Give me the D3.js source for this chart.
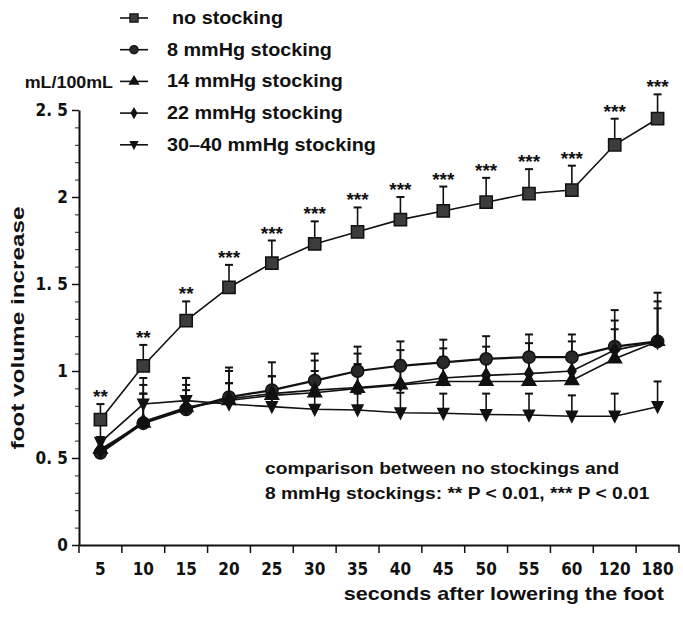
<!DOCTYPE html>
<html>
<head>
<meta charset="utf-8">
<script src="https://cdn.jsdelivr.net/npm/d3@7"></script>
<style>
  body { margin: 0; background: #fff; }
  text { font-family: "Liberation Sans", Arial, sans-serif; font-weight: bold; fill: #111; }
  .narrow { font-family: "Liberation Sans Narrow", "DejaVu Sans Condensed", "Liberation Sans", sans-serif; }
</style>
</head>
<body>
<div id="chart"></div>
<script>
// categories (seconds after lowering the foot)
var seconds = ["5", "10", "15", "20", "25", "30", "35", "40", "45", "50", "55", "60", "120", "180"];

// mean foot volume increase (mL/100mL) per stocking
var noStocking = [0.72, 1.03, 1.29, 1.48, 1.62, 1.73, 1.80, 1.87, 1.92, 1.97, 2.02, 2.04, 2.30, 2.45];
var mmHg8      = [0.53, 0.70, 0.78, 0.85, 0.89, 0.945, 1.00, 1.03, 1.05, 1.07, 1.08, 1.08, 1.14, 1.17];
var mmHg14     = [0.55, 0.70, 0.79, 0.83, 0.86, 0.875, 0.90, 0.92, 0.94, 0.94, 0.94, 0.945, 1.07, 1.17];
var mmHg22     = [0.54, 0.71, 0.79, 0.84, 0.87, 0.89, 0.905, 0.925, 0.96, 0.975, 0.985, 1.00, 1.12, 1.17];
var mmHg30     = [0.59, 0.81, 0.83, 0.81, 0.795, 0.78, 0.776, 0.76, 0.757, 0.75, 0.747, 0.74, 0.74, 0.795];

// top of each error bar (mean + SD)
var noStockingTop = [0.81, 1.15, 1.40, 1.61, 1.75, 1.86, 1.94, 2.00, 2.06, 2.11, 2.16, 2.18, 2.45, 2.59];
var mmHg8Top      = [0.62, 0.87, 0.96, 1.02, 1.05, 1.10, 1.14, 1.17, 1.18, 1.20, 1.21, 1.21, 1.35, 1.45];
var mmHg14Top     = [0.62, 0.87, 0.89, 0.93, 0.97, 1.00, 1.04, 1.06, 1.08, 1.09, 1.10, 1.10, 1.24, 1.36];
var mmHg22Top     = [0.62, 0.92, 0.92, 1.00, 0.97, 1.06, 1.10, 1.12, 1.13, 1.14, 1.16, 1.17, 1.29, 1.40];
var mmHg30Top     = [0.70, 0.96, 0.96, 0.93, 0.87, 0.87, 0.87, 0.875, 0.87, 0.87, 0.87, 0.86, 0.87, 0.94];

// significance marks above "no stocking"
var stars = ["**", "**", "**", "***", "***", "***", "***", "***", "***", "***", "***", "***", "***", "***"];

var seriesNames = ["no stocking", "8 mmHg stocking", "14 mmHg stocking", "22 mmHg stocking", "30\u201340 mmHg stocking"];

var yTicks = [0, 0.5, 1, 1.5, 2, 2.5];
var yTickLabels = ["0", "0. 5", "1", "1. 5", "2", "2. 5"];

var svg = d3.select("#chart")
    .append("svg")
    .attr("width", 683)
    .attr("height", 632);

var x = d3.scaleBand()
    .domain(seconds)
    .range([79, 679]);

var y = d3.scaleLinear()
    .domain([0, 2.5])
    .range([545, 110]);

var triDown = {
    draw: function(ctx, size) {
        var h = Math.sqrt(size * 1.3);
        ctx.moveTo(-h / 2, -h * 0.45);
        ctx.lineTo(h / 2, -h * 0.45);
        ctx.lineTo(0, h * 0.55);
        ctx.closePath();
    }
};

var series = [
    { name: seriesNames[0], values: noStocking, tops: noStockingTop, symbol: d3.symbolSquare, size: 150, fill: "#3c3c3c", width: 1.6 },
    { name: seriesNames[1], values: mmHg8, tops: mmHg8Top, symbol: d3.symbolCircle, size: 120, fill: "#2a2a2a", width: 2.2 },
    { name: seriesNames[2], values: mmHg14, tops: mmHg14Top, symbol: d3.symbolTriangle, size: 80, fill: "#111", width: 1.6 },
    { name: seriesNames[3], values: mmHg22, tops: mmHg22Top, symbol: d3.symbolDiamond, size: 60, fill: "#111", width: 1.6 },
    { name: seriesNames[4], values: mmHg30, tops: mmHg30Top, symbol: triDown, size: 90, fill: "#111", width: 1.6 }
];

// y axis with minor ticks
svg.append("g")
    .attr("transform", "translate(79,0)")
    .call(d3.axisLeft(y).tickValues(d3.range(0, 2.51, 0.1)).tickSize(4).tickFormat(""))
    .call(function(g) { g.select(".domain").remove(); })
    .selectAll("line").attr("stroke", "#222").attr("stroke-width", 1);

var yAxis = svg.append("g")
    .attr("transform", "translate(79,0)")
    .call(d3.axisLeft(y).tickValues(yTicks).tickSize(7).tickSizeOuter(0)
        .tickFormat(function(d, i) { return yTickLabels[i]; }));
yAxis.select(".domain").attr("stroke", "#111").attr("stroke-width", 2);
yAxis.selectAll("line").attr("stroke", "#111").attr("stroke-width", 1.5);
yAxis.selectAll("text")
    .attr("class", "narrow")
    .attr("font-size", 17)
    .attr("x", -11)
    .attr("dy", "0.35em");

// x axis: boundary ticks and centred labels
var xAxis = svg.append("g")
    .attr("transform", "translate(0,545)")
    .call(d3.axisBottom(x).tickSize(0).tickPadding(15));
xAxis.select(".domain").attr("stroke", "#111").attr("stroke-width", 2);
xAxis.selectAll("text")
    .attr("class", "narrow")
    .attr("font-size", 17)
    .attr("dy", "0.9em");

xAxis.selectAll(".bound")
    .data(seconds.concat(["end"]))
    .enter().append("line")
    .attr("class", "bound")
    .attr("x1", function(d) { return d === "end" ? x.range()[1] : x(d); })
    .attr("x2", function(d) { return d === "end" ? x.range()[1] : x(d); })
    .attr("y1", 0)
    .attr("y2", 8)
    .attr("stroke", "#111")
    .attr("stroke-width", 1.5);

// error bars
var errGroups = svg.selectAll(".err")
    .data(series)
    .enter().append("g")
    .attr("class", "err");

errGroups.selectAll("line.v")
    .data(function(s) { return s.values.map(function(v, i) { return { c: seconds[i], v: v, t: s.tops[i] }; }); })
    .enter().append("line")
    .attr("class", "v")
    .attr("x1", function(d) { return x(d.c) + x.bandwidth() / 2; })
    .attr("x2", function(d) { return x(d.c) + x.bandwidth() / 2; })
    .attr("y1", function(d) { return y(d.v); })
    .attr("y2", function(d) { return y(d.t); })
    .attr("stroke", "#111")
    .attr("stroke-width", 1.6);

errGroups.selectAll("line.cap")
    .data(function(s) { return s.values.map(function(v, i) { return { c: seconds[i], t: s.tops[i] }; }); })
    .enter().append("line")
    .attr("class", "cap")
    .attr("x1", function(d) { return x(d.c) + x.bandwidth() / 2 - 4; })
    .attr("x2", function(d) { return x(d.c) + x.bandwidth() / 2 + 4; })
    .attr("y1", function(d) { return y(d.t); })
    .attr("y2", function(d) { return y(d.t); })
    .attr("stroke", "#111")
    .attr("stroke-width", 2);

// lines
var line = d3.line()
    .x(function(d, i) { return x(seconds[i]) + x.bandwidth() / 2; })
    .y(function(d) { return y(d); });

svg.selectAll(".series-line")
    .data(series)
    .enter().append("path")
    .attr("class", "series-line")
    .attr("d", function(s) { return line(s.values); })
    .attr("fill", "none")
    .attr("stroke", "#111")
    .attr("stroke-width", function(s) { return s.width; });

// markers
var markerGroups = svg.selectAll(".markers")
    .data(series)
    .enter().append("g")
    .attr("class", "markers");

markerGroups.selectAll("path")
    .data(function(s) { return s.values.map(function(v, i) { return { c: seconds[i], v: v, s: s }; }); })
    .enter().append("path")
    .attr("transform", function(d) { return "translate(" + (x(d.c) + x.bandwidth() / 2) + "," + y(d.v) + ")"; })
    .attr("d", function(d) { return d3.symbol().type(d.s.symbol).size(d.s.size)(); })
    .attr("fill", function(d) { return d.s.fill; })
    .attr("stroke", "#111")
    .attr("stroke-width", 1.5);

// significance stars
svg.selectAll(".star")
    .data(stars)
    .enter().append("text")
    .attr("class", "star")
    .attr("x", function(d, i) { return x(seconds[i]) + x.bandwidth() / 2; })
    .attr("y", function(d, i) { return y(noStockingTop[i]) - 1; })
    .attr("text-anchor", "middle")
    .attr("font-size", 19)
    .text(function(d) { return d; });

// legend
var legend = svg.selectAll(".legend")
    .data(series)
    .enter().append("g")
    .attr("class", "legend")
    .attr("transform", function(d, i) { return "translate(0," + (18 + i * 31.7) + ")"; });

legend.append("line")
    .attr("x1", 120).attr("x2", 148)
    .attr("y1", 0).attr("y2", 0)
    .attr("stroke", "#111")
    .attr("stroke-width", 1.6);

legend.append("path")
    .attr("transform", "translate(134,0)")
    .attr("d", function(d) { return d3.symbol().type(d.symbol).size(d.size * 0.45)(); })
    .attr("fill", function(d) { return d.fill; })
    .attr("stroke", "#111")
    .attr("stroke-width", 1.2);

legend.append("text")
    .attr("transform", function(d, i) { return "translate(" + (i === 0 ? 172 : 167) + ",6) scale(1.1,1)"; })
    .attr("font-size", 18)
    .text(function(d) { return d.name; });

// unit label
svg.append("text")
    .attr("transform", "translate(113,88) scale(1.05,1)")
    .attr("text-anchor", "end")
    .attr("font-size", 17)
    .text("mL/100mL");

// axis titles
svg.append("text")
    .attr("transform", "translate(24,328) rotate(-90) scale(1.28,1)")
    .attr("text-anchor", "middle")
    .attr("font-size", 19)
    .text("foot volume increase");

svg.append("text")
    .attr("transform", "translate(664,600) scale(1.2,1)")
    .attr("text-anchor", "end")
    .attr("font-size", 18)
    .text("seconds after lowering the foot");

// note
svg.append("text")
    .attr("transform", "translate(265,474) scale(1.13,1)")
    .attr("font-size", 17)
    .text("comparison between no stockings and");

svg.append("text")
    .attr("transform", "translate(265,499) scale(1.13,1)")
    .attr("font-size", 17)
    .text("8 mmHg stockings: ** P < 0.01, *** P < 0.01");
</script>
</body>
</html>
